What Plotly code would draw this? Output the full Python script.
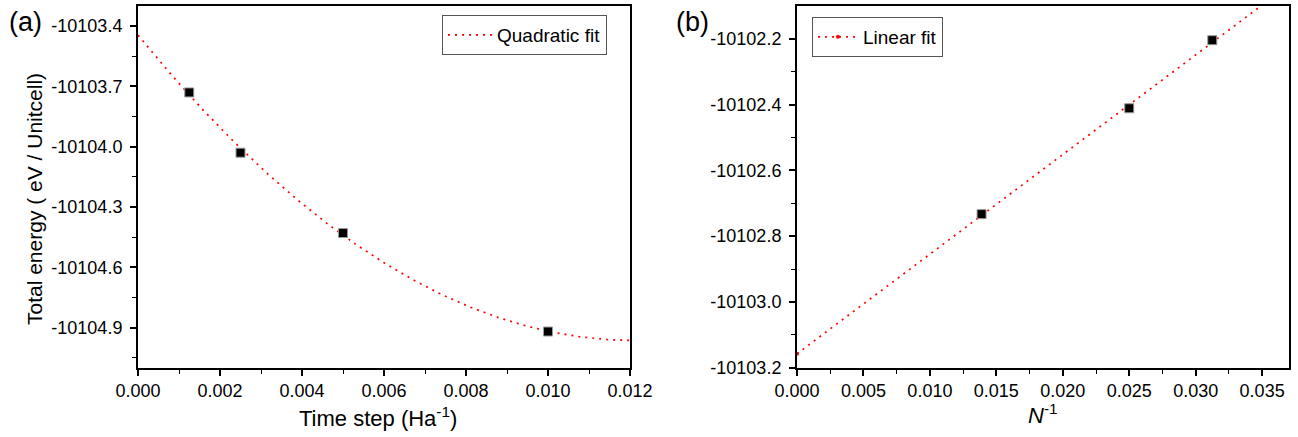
import numpy as np
import plotly.graph_objects as go

# ---------------- data ----------------
# panel (a): total energy vs time step
time_step = [0.00125, 0.0025, 0.005, 0.010]
energy_a = [-10103.73, -10104.03, -10104.43, -10104.92]
xa_ticks = [0.000, 0.002, 0.004, 0.006, 0.008, 0.010, 0.012]
ya_ticks = [-10104.9, -10104.6, -10104.3, -10104.0, -10103.7, -10103.4]

# panel (b): total energy vs N^-1
inv_n = [1 / 72, 1 / 40, 1 / 32]
energy_b = [-10102.733, -10102.411, -10102.204]
xb_ticks = [0.000, 0.005, 0.010, 0.015, 0.020, 0.025, 0.030, 0.035]
yb_ticks = [-10103.2, -10103.0, -10102.8, -10102.6, -10102.4, -10102.2]

xa_range = [0, 0.012]
ya_range = [-10105.1, -10103.3]
xb_range = [0, 0.037]
yb_range = [-10103.2, -10102.1]

# ---------------- fits ----------------
ca = np.polyfit(time_step, energy_a, 2)
xa_fit = np.linspace(xa_range[0], xa_range[1], 300)
ya_fit = np.polyval(ca, xa_fit)

cb = np.polyfit(inv_n, energy_b, 1)
xb_fit = np.array(xb_range)
yb_fit = np.polyval(cb, xb_fit)

FONT = "Liberation Sans, Arial, sans-serif"
RED = "#ff0000"
W, H = 1298, 437

fig = go.Figure()

fig.add_trace(go.Scatter(
    x=xa_fit, y=ya_fit, mode="lines", name="Quadratic fit",
    line=dict(color=RED, width=1.7, dash="2px,5px"),
    xaxis="x", yaxis="y", legend="legend"))
fig.add_trace(go.Scatter(
    x=time_step, y=energy_a, mode="markers", showlegend=False,
    marker=dict(symbol="square", size=9, color="black",
                line=dict(color="#9a9a9a", width=1)),
    xaxis="x", yaxis="y"))

fig.add_trace(go.Scatter(
    x=xb_fit, y=yb_fit, mode="lines+markers", name="Linear fit",
    line=dict(color=RED, width=1.7, dash="2px,5px"),
    marker=dict(color=RED, size=4),
    xaxis="x2", yaxis="y2", legend="legend2"))
fig.add_trace(go.Scatter(
    x=inv_n, y=energy_b, mode="markers", showlegend=False,
    marker=dict(symbol="square", size=9, color="black",
                line=dict(color="#9a9a9a", width=1)),
    xaxis="x2", yaxis="y2"))


def midpoints(vals, lo, hi):
    step = vals[1] - vals[0]
    out = []
    v = vals[0] - step / 2
    while v <= hi + 1e-12:
        if v >= lo - 1e-12:
            out.append(v)
        v += step
    return out


def axis_style(domain, anchor, tickvals, fmt, rng, minor_vals, standoff):
    return dict(
        domain=domain, anchor=anchor, range=rng, automargin=False,
        tickmode="array", tickvals=tickvals,
        ticktext=[fmt.format(v) for v in tickvals],
        ticks="outside", ticklen=6, tickwidth=1.6, tickcolor="black",
        ticklabelstandoff=standoff,
        minor=dict(tickmode="array", tickvals=minor_vals, ticks="outside",
                   ticklen=4, tickwidth=1.4, tickcolor="black"),
        showline=True, linecolor="black", linewidth=2, mirror=True,
        showgrid=False, zeroline=False,
        tickfont=dict(family=FONT, size=18, color="black"),
    )


ya_dom = [1 - 367.7 / H, 1 - 6 / H]
fig.update_layout(
    width=W, height=H,
    margin=dict(l=0, r=0, t=0, b=0, pad=0, autoexpand=False),
    paper_bgcolor="white", plot_bgcolor="white",
    xaxis=axis_style([138 / W, 630 / W], "y", xa_ticks, "{:.3f}", xa_range,
                     midpoints(xa_ticks, *xa_range), 0),
    yaxis=axis_style(ya_dom, "x", ya_ticks, "{:.1f}", ya_range,
                     midpoints(ya_ticks, *ya_range), 4),
    xaxis2=axis_style([797 / W, 1288.7 / W], "y2", xb_ticks, "{:.3f}", xb_range,
                      midpoints(xb_ticks, *xb_range), 0),
    yaxis2=axis_style(ya_dom, "x2", yb_ticks, "{:.1f}", yb_range,
                      midpoints(yb_ticks, *yb_range), 4),
    legend=dict(x=442 / W, y=1 - 15 / H, xanchor="left", yanchor="top",
                bgcolor="white", bordercolor="#555555", borderwidth=1,
                font=dict(family=FONT, size=19, color="black"),
                itemwidth=44, tracegroupgap=0),
    legend2=dict(x=812 / W, y=1 - 17 / H, xanchor="left", yanchor="top",
                 bgcolor="white", bordercolor="#555555", borderwidth=1,
                 font=dict(family=FONT, size=19, color="black"),
                 itemwidth=40, tracegroupgap=0),
    showlegend=True,
)

annos = [
    dict(text="(a)", x=25 / W, y=1 - 22 / H, size=27, angle=0),
    dict(text="(b)", x=692 / W, y=1 - 22 / H, size=27, angle=0),
    dict(text="Total energy ( eV / Unitcell)", x=34 / W, y=1 - 199 / H, size=21, angle=-90),
    dict(text="Time step (Ha<sup>-1</sup>)", x=378 / W, y=1 - 417 / H, size=22, angle=0),
    dict(text="<i>N</i><sup>-1</sup>", x=1043 / W, y=1 - 414 / H, size=22, angle=0),
]
for a in annos:
    fig.add_annotation(text=a["text"], x=a["x"], y=a["y"], xref="paper", yref="paper",
                       xanchor="center", yanchor="middle", showarrow=False,
                       textangle=a["angle"],
                       font=dict(family=FONT, size=a["size"], color="black"))

fig.write_html(
    "out.html",
    config={"displayModeBar": False},
    post_script="document.body.style.margin='0';document.body.style.overflow='hidden';",
)
